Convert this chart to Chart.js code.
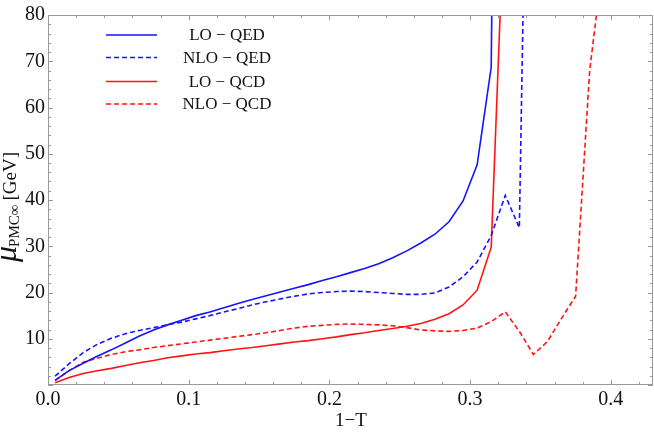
<!DOCTYPE html>
<html>
<head>
<meta charset="utf-8">
<script src="https://cdn.jsdelivr.net/npm/chart.js@4.4.1/dist/chart.umd.min.js"></script>
<style>
  html, body { margin: 0; padding: 0; background: #fff; }
  #wrap { width: 654px; height: 432px; }
</style>
</head>
<body>
<div id="wrap"><canvas id="muChart" width="654" height="432"></canvas></div>
<script>
// 1-T values (bin centres)
var oneMinusT = [0.005, 0.015, 0.025, 0.035, 0.045, 0.055, 0.065, 0.075, 0.085, 0.095,
                 0.105, 0.115, 0.125, 0.135, 0.145, 0.155, 0.165, 0.175, 0.185, 0.195,
                 0.205, 0.215, 0.225, 0.235, 0.245, 0.255, 0.265, 0.275, 0.285, 0.295,
                 0.305, 0.315, 0.325, 0.335, 0.345, 0.355, 0.365, 0.375, 0.385, 0.395];

// mu_PMCinf [GeV]
var loQED  = [1.0, 3.1, 4.7, 6.2, 7.6, 9.1, 10.6, 11.9, 13.0, 14.0,
              15.0, 15.8, 16.7, 17.6, 18.5, 19.3, 20.1, 20.9, 21.7, 22.6,
              23.4, 24.3, 25.2, 26.2, 27.5, 29.0, 30.7, 32.6, 35.3, 39.8,
              47.6, 68.7, 350];
var nloQED = [1.9, 4.6, 7.0, 8.8, 10.1, 11.1, 11.8, 12.4, 13.0, 13.6,
              14.3, 15.0, 15.8, 16.5, 17.3, 18.0, 18.6, 19.2, 19.7, 20.0,
              20.2, 20.3, 20.2, 20.0, 19.8, 19.6, 19.6, 19.9, 21.2, 23.4,
              26.6, 32.3, 41.0, 34.0, 210];
var loQCD  = [0.5, 1.6, 2.5, 3.1, 3.6, 4.2, 4.8, 5.3, 5.9, 6.3,
              6.7, 7.0, 7.4, 7.8, 8.1, 8.5, 8.9, 9.3, 9.6, 10.0,
              10.4, 10.9, 11.3, 11.8, 12.2, 12.7, 13.3, 14.2, 15.4, 17.3,
              20.5, 29.8, 109];
var nloQCD = [1.0, 3.1, 4.9, 5.8, 6.6, 7.2, 7.6, 8.1, 8.5, 8.9,
              9.3, 9.7, 10.1, 10.5, 10.9, 11.3, 11.8, 12.3, 12.7, 12.9,
              13.1, 13.2, 13.1, 13.0, 12.8, 12.4, 11.9, 11.7, 11.6, 11.8,
              12.3, 13.7, 15.8, 11.6, 6.6, 9.4, 14.4, 19.2, 68, 93];

var seriesNames = ['LO \u2212 QED', 'NLO \u2212 QED', 'LO \u2212 QCD', 'NLO \u2212 QCD'];
var xTickLabels = ['0.0', '0.1', '0.2', '0.3', '0.4'];
var yTickLabels = ['10', '20', '30', '40', '50', '60', '70', '80'];

var BLUE = 'rgb(20,20,255)';
var RED = 'rgb(255,20,20)';
var SERIF = '"Liberation Serif", "DejaVu Serif", serif';

function toPoints(vals) {
  return vals.map(function (v, i) { return { x: oneMinusT[i], y: v }; });
}

function lineSet(label, vals, color, dashed) {
  return {
    label: label,
    data: toPoints(vals),
    borderColor: color,
    backgroundColor: color,
    borderWidth: 1.6,
    borderDash: dashed ? [5, 3] : [],
    pointRadius: 0,
    tension: 0,
    fill: false
  };
}

// frame, inward ticks, legend and axis titles (Mathematica style)
var framePlugin = {
  id: 'frame',
  afterDraw: function (chart) {
    var ctx = chart.ctx, a = chart.chartArea;
    var xs = chart.scales.x, ys = chart.scales.y;
    ctx.save();
    ctx.strokeStyle = '#999';
    ctx.lineWidth = 1;
    ctx.setLineDash([]);
    ctx.strokeRect(a.left + 0.5, a.top + 0.5, a.right - a.left - 1, a.bottom - a.top - 1);

    ctx.beginPath();
    var v, px, len;
    for (v = 0; v <= 0.43 + 1e-9; v += 0.02) {
      px = Math.round(xs.getPixelForValue(v)) + 0.5;
      len = (Math.round(v * 100) % 10 === 0) ? 5 : 3;
      ctx.moveTo(px, a.bottom); ctx.lineTo(px, a.bottom - len);
      ctx.moveTo(px, a.top); ctx.lineTo(px, a.top + len);
    }
    for (v = 0; v <= 80; v += 2) {
      px = Math.round(ys.getPixelForValue(v)) + 0.5;
      len = (v % 10 === 0) ? 5 : 3;
      ctx.moveTo(a.left, px); ctx.lineTo(a.left + len, px);
      ctx.moveTo(a.right, px); ctx.lineTo(a.right - len, px);
    }
    ctx.stroke();

    // legend
    var rows = [35, 57.5, 81.5, 104];
    chart.data.datasets.forEach(function (ds, i) {
      ctx.strokeStyle = ds.borderColor;
      ctx.lineWidth = ds.borderWidth;
      ctx.setLineDash(ds.borderDash);
      ctx.beginPath();
      ctx.moveTo(106, rows[i]); ctx.lineTo(157, rows[i]);
      ctx.stroke();
      ctx.setLineDash([]);
      ctx.fillStyle = '#111';
      ctx.font = '17px ' + SERIF;
      ctx.textAlign = 'center';
      ctx.textBaseline = 'middle';
      ctx.fillText(ds.label, 227, rows[i] + 1);
    });

    // x title
    ctx.fillStyle = '#111';
    ctx.font = '19px ' + SERIF;
    ctx.textAlign = 'center';
    ctx.textBaseline = 'middle';
    ctx.fillText('1\u2212T', 351, 421);

    // y title: mu_{PMC∞} [GeV]
    ctx.translate(16, 262);
    ctx.rotate(-Math.PI / 2);
    ctx.textAlign = 'left';
    ctx.textBaseline = 'alphabetic';
    ctx.font = 'italic 32px ' + SERIF;
    ctx.fillText('\u03bc', 0, 0);
    var x = ctx.measureText('\u03bc').width - 1;
    ctx.font = '15px ' + SERIF;
    ctx.fillText('PMC\u221e', x, 3);
    x += ctx.measureText('PMC\u221e').width + 4;
    ctx.font = '19px ' + SERIF;
    ctx.fillText('[GeV]', x, 0);
    ctx.restore();
  }
};

var config = {
  type: 'line',
  data: {
    datasets: [
      lineSet(seriesNames[0], loQED, BLUE, false),
      lineSet(seriesNames[1], nloQED, BLUE, true),
      lineSet(seriesNames[2], loQCD, RED, false),
      lineSet(seriesNames[3], nloQCD, RED, true)
    ]
  },
  options: {
    responsive: false,
    animation: false,
    layout: { padding: { top: 12, right: 1, left: 0, bottom: 0 } },
    plugins: { legend: { display: false }, tooltip: { enabled: false } },
    scales: {
      x: {
        type: 'linear',
        min: 0,
        max: 0.43,
        grid: { display: false, drawTicks: false },
        border: { display: false },
        ticks: {
          stepSize: 0.1,
          includeBounds: false,
          autoSkip: false,
          maxRotation: 0,
          padding: 3,
          color: '#111',
          font: { family: SERIF, size: 20 },
          callback: function (value) {
            var i = Math.round(value * 10);
            return xTickLabels[i] !== undefined ? xTickLabels[i] : '';
          }
        },
        afterFit: function (scale) { scale.height = 47; }
      },
      y: {
        min: 0,
        max: 80,
        grid: { display: false, drawTicks: false },
        border: { display: false },
        ticks: {
          stepSize: 10,
          autoSkip: false,
          padding: 3,
          color: '#111',
          font: { family: SERIF, size: 20 },
          callback: function (value) {
            var i = Math.round(value / 10) - 1;
            return i >= 0 ? yTickLabels[i] : '';
          }
        },
        afterFit: function (scale) { scale.width = 48; }
      }
    }
  },
  plugins: [framePlugin]
};

var muChart = new Chart(document.getElementById('muChart'), config);
</script>
</body>
</html>
